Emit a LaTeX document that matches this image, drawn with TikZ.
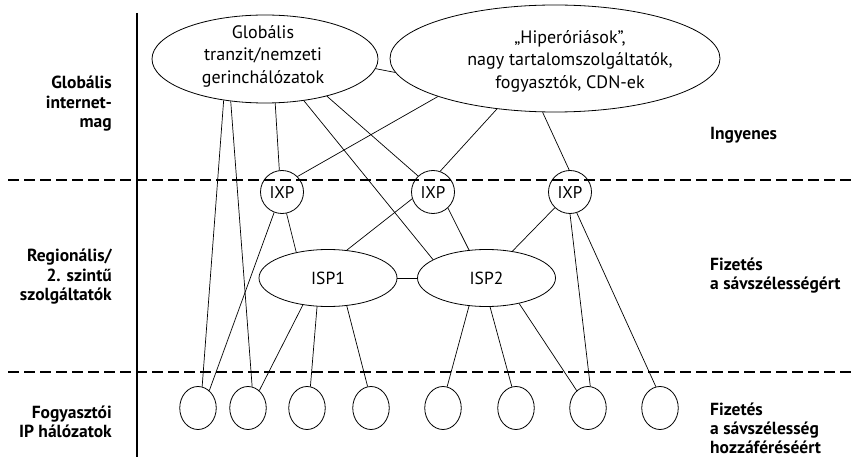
\documentclass[tikz,border=0pt]{standalone}
\usepackage{fontspec}
\setmainfont{PT Sans}
\usetikzlibrary{shapes.geometric}

\tikzset{
  cloud/.style={draw, ellipse, inner sep=0pt, line width=0.8pt},
  exchange/.style={draw, circle, inner sep=0pt, minimum size=43pt, line width=0.8pt,
    font=\fontsize{17}{20}\selectfont},
  provider/.style={draw, ellipse, inner sep=0pt, minimum width=138pt, minimum height=57pt,
    line width=0.8pt, font=\fontsize{17.5}{20}\selectfont},
  usernet/.style={draw, ellipse, inner sep=0pt, minimum width=36.5pt, minimum height=43pt,
    line width=0.8pt},
  link/.style={line width=0.7pt},
  layer/.style={line width=1.1pt, dash pattern=on 11pt off 5pt},
  tierlabel/.style={font=\bfseries\fontsize{17.5}{19.5}\selectfont, align=right, anchor=east, inner sep=0pt},
  costlabel/.style={font=\bfseries\fontsize{17.5}{19}\selectfont, align=left, anchor=west, inner sep=0pt},
  bodytext/.style={font=\fontsize{18}{22.5}\selectfont, align=center, inner sep=0pt}
}

\begin{document}
\begin{tikzpicture}[x=1pt, y=-1pt]
\useasboundingbox (0,0) rectangle (851,457);

% layer separators and the label column rule
\coordinate (sepAl) at (8,180);   \coordinate (sepAr) at (851,180);
\coordinate (sepBl) at (8,372);   \coordinate (sepBr) at (851,372);
\coordinate (ruleT) at (137,13);  \coordinate (ruleB) at (137,457);
\draw[layer] (sepAl) -- (sepAr);
\draw[layer] (sepBl) -- (sepBr);
\draw[line width=1.1pt] (ruleT) -- (ruleB);

% global core
\node[cloud, minimum width=226pt, minimum height=88pt] (glob) at (265,59) {};
\node[bodytext] (globtext) at (263,56) {Globális\\tranzit/nemzeti\\gerinchálózatok};
\node[cloud, minimum width=330pt, minimum height=107pt] (big) at (555,58.5) {};
\node[bodytext] (bigtext) at (570,61) {„Hiperóriások”,\\nagy tartalomszolgáltatók,\\fogyasztók, CDN-ek};

% exchange points
\node[exchange] (ixpA) at (282,192) {IXP};
\node[exchange] (ixpB) at (433,192) {IXP};
\node[exchange] (ixpC) at (570,192) {IXP};

% regional providers
\node[provider] (ispA) at (328,278) {ISP1};
\node[provider] (ispB) at (486.5,278) {ISP2};

% consumer networks
\foreach \i/\x in {1/198, 2/248, 3/307, 4/371, 5/443, 6/516, 7/588, 8/660}
  \node[usernet] (net\i) at (\x,408) {};

% core links
\draw[link] (glob.-5.7) -- (big.-175.7);
\draw[link] (glob.-135.8) -- (net1.79);
\draw[link] (glob.-129) -- (net2.79);
\draw[link] (glob.-77.1) -- (ixpA.97);
\draw[link] (glob.-47.5) -- (ispB.161.6);
\draw[link] (glob.-31.9) -- (ixpB.133);
\draw[link] (big.-162.1) -- (ixpA.45);
\draw[link] (big.-139.2) -- (ixpB.71);
\draw[link] (big.-103.7) -- (ixpC.92);

% exchange links
\draw[link] (ixpA.-78) -- (ispA.141.8);
\draw[link] (ixpA.-111) -- (net1.57);
\draw[link] (ixpB.-162) -- (ispA.56.8);
\draw[link] (ixpB.-47) -- (ispB.122.4);
\draw[link] (ixpC.-134) -- (ispB.46.1);
\draw[link] (ixpC.-90) -- (net7.84);
\draw[link] (ixpC.-72) -- (net8.101);

% provider links
\draw[link] (ispA.east) -- (ispB.west);
\draw[link] (ispA.-133.2) -- (net2.57);
\draw[link] (ispA.-111.4) -- (net3.81);
\draw[link] (ispA.-56.8) -- (net4.99);
\draw[link] (ispB.-122.4) -- (net5.79);
\draw[link] (ispB.-83) -- (net6.101);
\draw[link] (ispB.-38.8) -- (net7.123);

% tier names
\node[tierlabel] (tierA) at (112,104) {Globális\\internet-\\mag};
\node[tierlabel] (tierB) at (112,277) {Regionális/\\2. szintű\\szolgáltatók};
\node[tierlabel] (tierC) at (112,422) {Fogyasztói\\IP hálózatok};

% payment relations
\node[costlabel] (costA) at (710,135) {Ingyenes};
\node[costlabel] (costB) at (710,276) {Fizetés\\a sávszélességért};
\node[costlabel] (costC) at (710,428) {Fizetés\\a sávszélesség\\hozzáféréséért};
\end{tikzpicture}
\end{document}
